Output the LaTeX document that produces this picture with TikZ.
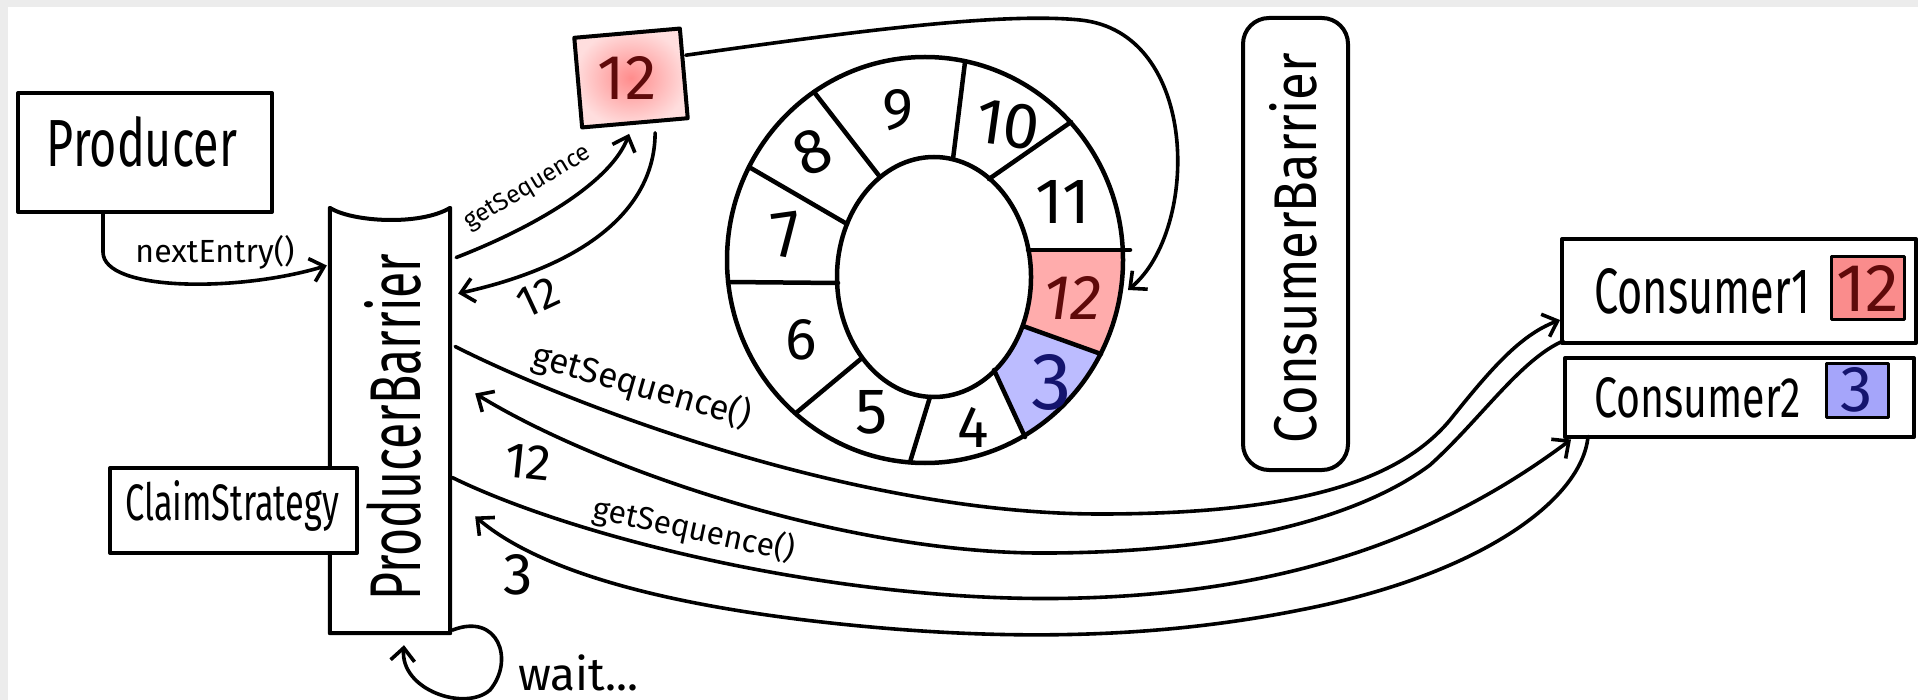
\documentclass[tikz,border=0pt]{standalone}
\usepackage{fontspec}
\setmainfont{Fira Sans}
\usetikzlibrary{arrows.meta}
\definecolor{bggray}{RGB}{236,236,236}
\definecolor{redfill}{RGB}{255,172,172}
\definecolor{redcore}{RGB}{255,140,140}
\definecolor{redpale}{RGB}{255,222,222}
\definecolor{redtext}{RGB}{95,10,10}
\definecolor{bluefill}{RGB}{188,188,255}
\definecolor{bluetext}{RGB}{20,20,110}
\definecolor{redsmall}{RGB}{250,140,140}
\definecolor{bluesmall}{RGB}{165,165,250}
\newcommand{\fitt}[3]{\resizebox{#1}{#2}{#3}}
\begin{document}
\begin{tikzpicture}[x=1pt,y=-1pt,
  box/.style={draw, line width=4pt, inner sep=0pt, line join=round},
  wire/.style={line width=3.6pt, line cap=round, line join=round},
  arr/.style={wire, -{Straight Barb[length=13pt,width=24pt]}},
  lbl/.style={inner sep=0pt},
  ringline/.style={line width=4.5pt, line cap=round},
  digit/.style={inner sep=0pt}]

\useasboundingbox (0,0) rectangle (1918,700);
\fill[bggray] (0,0) rectangle (1918,700);
\fill[white] (8,7) rectangle (1918,700);

% ---- ring buffer fills
\begin{scope}
  \clip (1000,250) -- (1150,250) -- (1150,371.6) -- (990,314.2) -- cycle;
  \fill[redfill, even odd rule] (925,260) ellipse [x radius=198pt, y radius=203pt]
       (934,277) ellipse [x radius=97pt, y radius=120pt];
\end{scope}
\begin{scope}
  \clip (990,314.2) -- (1150,371.6) -- (1150,480) -- (1045,480) -- (980,340) -- cycle;
  \fill[bluefill, even odd rule] (925,260) ellipse [x radius=198pt, y radius=203pt]
       (934,277) ellipse [x radius=97pt, y radius=120pt];
\end{scope}

% ---- ring outlines and dividers
\draw[ringline] (925,260) ellipse [x radius=198pt, y radius=203pt];
\draw[ringline] (934,277) ellipse [x radius=97pt, y radius=120pt];
\draw[ringline] (953,159) -- (965,62);
\draw[ringline] (880,177) -- (814,92);
\draw[ringline] (847,224) -- (749,167);
\draw[ringline] (838,283) -- (728,282);
\draw[ringline] (862,358) -- (796,413);
\draw[ringline] (930,397) -- (910,462);
\draw[ringline] (994,370) -- (1025,437);
\draw[ringline] (1023,326) -- (1101,354);
\draw[ringline] (1028,250) -- (1130,250);
\draw[ringline] (989,179) -- (1071,122);

% ---- ring digits
\node[digit] (n9) at (898,110) {\fitt{!}{40pt}{9}};
\node[digit, rotate=-8] (n10) at (1008,125) {\fitt{!}{44pt}{10}};
\node[digit, rotate=25] (n8) at (812,152) {\fitt{!}{43pt}{8}};
\node[digit, rotate=8] (n7) at (787,235) {\fitt{!}{44pt}{7}};
\node[digit] (n6) at (801,340) {\fitt{!}{40pt}{6}};
\node[digit] (n5) at (872,412) {\fitt{!}{43pt}{5}};
\node[digit] (n4) at (973,427) {\fitt{!}{40pt}{4}};
\node[digit, text=bluetext] (n3) at (1052,382) {\fitt{!}{55pt}{3}};
\node[digit, text=redtext] (n12) at (1072,298) {\fitt{!}{43pt}{\itshape 12}};
\node[digit] (n11) at (1063,202) {\fitt{!}{43pt}{11}};
\coordinate (seg12) at (1128,290);

% ---- producer side
\node[box, minimum width=254pt, minimum height=119pt] (producer) at (145,152.5) {};
\node[lbl, anchor=base] (producertext) at (142,167) {\fitt{190pt}{50pt}{Producer}};

\node[minimum width=120pt, minimum height=425pt, inner sep=0pt] (pb) at (390,420.5) {};
\draw[line width=4pt, line join=round] (pb.south west) -- (pb.north west)
   .. controls (352,222) and (420,226) .. (pb.north east) -- (pb.south east) -- cycle;
\node[lbl, rotate=90, anchor=base] (pbtext) at (420,427) {\fitt{347pt}{56pt}{ProducerBarrier}};

\node[box, fill=white, minimum width=247pt, minimum height=85pt] (claim) at (233.5,510.5) {};
\node[lbl, anchor=base west] (claimtext) at (125,520) {\fitt{214pt}{40pt}{ClaimStrategy}};

\node[box, inner color=redcore, outer color=redpale, minimum width=106pt, minimum height=90pt, rotate=5] (box12) at (631,78) {};
\node[lbl, text=redtext] (box12text) at (627,78) {\fitt{!}{43pt}{12}};

% ---- consumer side
\node[box, rounded corners=26pt, minimum width=105pt, minimum height=452pt] (cb) at (1295.5,244) {};
\node[lbl, rotate=90, anchor=base] (cbtext) at (1316,248) {\fitt{390pt}{47pt}{ConsumerBarrier}};

\node[box, minimum width=354pt, minimum height=104pt] (c1) at (1739,291) {};
\node[lbl, anchor=base west] (c1text) at (1594,313) {\fitt{216pt}{45pt}{Consumer1}};
\node[box, line width=3pt, fill=redsmall, minimum width=73pt, minimum height=63pt] (c1seq) at (1867.5,288.5) {\textcolor{redtext}{\fitt{!}{46pt}{12}}};

\node[box, minimum width=349pt, minimum height=79pt] (c2) at (1739.5,397.5) {};
\node[lbl, anchor=base west] (c2text) at (1594,417) {\fitt{207pt}{40pt}{Consumer2}};
\node[box, line width=3pt, fill=bluesmall, minimum width=62pt, minimum height=54pt] (c2seq) at (1857,390) {\textcolor{bluetext}{\fitt{!}{44pt}{3}}};

% ---- connectors
\draw[arr] ([xshift=-42pt]producer.south) -- ++(0,38) .. controls +(0,40) and (240,292) .. ([xshift=-3pt,yshift=155pt]pb.west);
\node[lbl] (nexttext) at (215,252) {\fitt{159pt}{!}{nextEntry()}};

\draw[arr] ([xshift=6pt,yshift=163pt]pb.east) .. controls (540,225) and (612,180) .. ([xshift=-6pt,yshift=-9pt]box12.south);
\node[lbl, rotate=31] (gstext) at (528,188) {\fitt{143pt}{!}{getSequence}};

\draw[arr] ([xshift=20pt,yshift=-8pt]box12.south) .. controls (655,200) and (600,262) .. ([xshift=8pt,yshift=127pt]pb.east);
\node[lbl, rotate=25] (r12text) at (538,297) {\fitt{!}{30pt}{12}};

\draw[arr] ([yshift=18pt]box12.east) .. controls (850,32) and (1000,12) .. (1080,20)
   .. controls (1200,32) and (1200,230) .. (seg12);

\draw[arr] ([xshift=5pt,yshift=74pt]pb.east) .. controls (560,400) and (850,514) .. (1100,514)
   .. controls (1300,514) and (1400,480) .. (1450,420)
   .. controls (1490,370) and (1520,335) .. ([yshift=-29pt]c1.west);
\node[lbl, rotate=-16] (gs1) at (642,386) {\fitt{226pt}{!}{getSequence()}};

\draw[arr] ([xshift=3pt,yshift=-50pt]c1.west) .. controls (1520,360) and (1480,420) .. (1430,465)
   .. controls (1370,510) and (1250,552) .. (1050,553)
   .. controls (850,555) and (600,470) .. ([xshift=25pt,yshift=27pt]pb.east);
\node[lbl, rotate=-6] (l12) at (528,462) {\fitt{!}{34pt}{12}};

\draw[arr] ([xshift=2pt,yshift=-57pt]pb.east) .. controls (580,540) and (850,605) .. (1080,598)
   .. controls (1300,592) and (1450,530) .. ([xshift=8pt,yshift=-42pt]c2.west);
\node[lbl, rotate=-12] (gs2) at (694,530) {\fitt{205pt}{!}{getSequence()}};

\draw[arr] ([xshift=25pt,yshift=-39pt]c2.west) .. controls (1582,500) and (1480,575) .. (1300,610)
   .. controls (1150,640) and (1000,640) .. (850,625)
   .. controls (700,610) and (550,580) .. ([xshift=25pt,yshift=-96pt]pb.east);
\node[lbl] (l3) at (518,575) {\fitt{!}{40pt}{3}};

\draw[arr] ([xshift=2pt,yshift=3pt]pb.south east) .. controls (498,612) and (515,660) .. (490,690)
   .. controls (465,712) and (400,690) .. ([xshift=14pt,yshift=-12pt]pb.south);
\node[lbl, anchor=base west] (waittext) at (518,690) {\fitt{120pt}{!}{wait...}};
\end{tikzpicture}
\end{document}
